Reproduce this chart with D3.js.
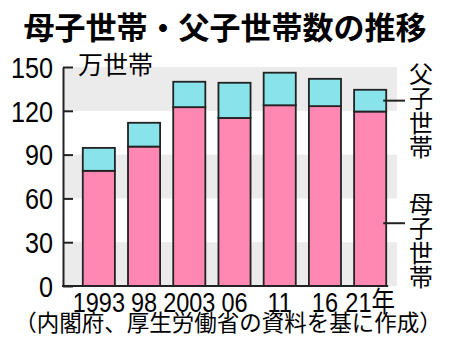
<!DOCTYPE html>
<html>
<head>
<meta charset="utf-8">
<script src="https://cdn.jsdelivr.net/npm/d3@7"></script>
<style>
  body { margin: 0; background: #fff; }
  svg { display: block; }
  .num { font-family: "Liberation Sans", Arial, "Noto Sans CJK JP", sans-serif; }
  .jp { font-family: "Noto Sans CJK JP", sans-serif; }
</style>
</head>
<body>
<svg width="450" height="358"></svg>
<script>
// data (万世帯)
var years = ["1993", "98", "2003", "06", "11", "16", "21年"];
var boshi = [78.9, 95.5, 122.5, 115.1, 123.8, 123.2, 119.5];   // 母子世帯
var fushi = [15.7, 16.3, 17.4, 24.1, 22.3, 18.7, 14.9];        // 父子世帯
var yTicks = [0, 30, 60, 90, 120, 150];

var svg = d3.select("svg");
var plotL = 63, plotR = 397, plotT = 67, plotB = 286;
var squeeze = 0.84; // digits are condensed in the original

var x = d3.scaleBand()
  .domain(years)
  .range([76, 393])
  .paddingInner(0.29)
  .paddingOuter(0.15);

var y = d3.scaleLinear()
  .domain([0, 150])
  .range([plotB, plotT]);

// title
svg.append("text")
  .attr("class", "jp")
  .attr("x", 225).attr("y", 39)
  .attr("text-anchor", "middle")
  .style("font-size", "31px")
  .style("font-weight", "bold")
  .text("母子世帯・父子世帯数の推移");

// grey bands every other 30
var bands = d3.range(0, yTicks.length - 1).filter(function(i) { return i % 2 == 0; });
svg.selectAll(".band")
  .data(bands).enter()
  .append("rect")
  .attr("class", "band")
  .attr("x", plotL)
  .attr("width", plotR - plotL)
  .attr("y", function(i) { return y(yTicks[i + 1]); })
  .attr("height", function(i) { return y(yTicks[i]) - y(yTicks[i + 1]); })
  .attr("fill", "#ebebeb");

// unit label
svg.append("text")
  .attr("class", "jp")
  .attr("x", 78).attr("y", 74)
  .style("font-size", "25px")
  .text("万世帯");

// bars
var rows = years.map(function(yr, i) { return { year: yr, b: boshi[i], f: fushi[i] }; });
var g = svg.append("g");

g.selectAll(".pink")
  .data(rows).enter()
  .append("rect")
  .attr("x", d => x(d.year))
  .attr("width", x.bandwidth())
  .attr("y", d => y(d.b))
  .attr("height", d => y(0) - y(d.b))
  .attr("fill", "#ff88b2")
  .attr("stroke", "#222")
  .attr("stroke-width", 1.8);

g.selectAll(".cyan")
  .data(rows).enter()
  .append("rect")
  .attr("x", d => x(d.year))
  .attr("width", x.bandwidth())
  .attr("y", d => y(d.b + d.f))
  .attr("height", d => y(d.b) - y(d.b + d.f))
  .attr("fill", "#88e3ea")
  .attr("stroke", "#222")
  .attr("stroke-width", 1.8);

// y axis, ticks inward
var yAxis = svg.append("g")
  .attr("transform", "translate(" + plotL + ",0)")
  .call(d3.axisRight(y).tickValues(yTicks).tickSize(10).tickSizeOuter(0).tickFormat(""));
yAxis.select(".domain").attr("stroke", "#222").attr("stroke-width", 2);
yAxis.selectAll(".tick line").attr("stroke", "#222").attr("stroke-width", 2);

svg.selectAll(".ylab")
  .data(yTicks).enter()
  .append("text")
  .attr("class", "num")
  .attr("transform", d => "translate(53," + y(d) + ") scale(" + squeeze + ",1)")
  .attr("dy", "0.36em")
  .attr("text-anchor", "end")
  .style("font-size", "30px")
  .text(d => d);

// x axis line
svg.append("line")
  .attr("x1", plotL - 1).attr("x2", x(years[years.length - 1]) + x.bandwidth() + 2)
  .attr("y1", plotB).attr("y2", plotB)
  .attr("stroke", "#222").attr("stroke-width", 2);

svg.selectAll(".xlab")
  .data(years).enter()
  .append("text")
  .attr("class", "num")
  .attr("transform", d => "translate(" + (x(d) + x.bandwidth() / 2) + ",312) scale(" + squeeze + ",1)")
  .attr("text-anchor", "middle")
  .style("font-size", "28px")
  .text(d => d);

// legend, vertical text with leader lines
var last = rows[rows.length - 1];
var legend = [
  { label: "父子世帯", v: last.b + last.f / 2, y0: 74 },
  { label: "母子世帯", v: 43, y0: 204 }
];
var xr = x(last.year) + x.bandwidth();
legend.forEach(function(l) {
  svg.append("line")
    .attr("x1", xr - 3).attr("x2", 405)
    .attr("y1", y(l.v)).attr("y2", y(l.v))
    .attr("stroke", "#222").attr("stroke-width", 2);
  svg.selectAll(null)
    .data(l.label.split("")).enter()
    .append("text")
    .attr("class", "jp")
    .attr("x", 421)
    .attr("y", (c, i) => l.y0 + i * 24.5)
    .attr("dy", "0.36em")
    .attr("text-anchor", "middle")
    .style("font-size", "24px")
    .text(c => c);
});

// source
svg.append("text")
  .attr("class", "jp")
  .attr("x", 228).attr("y", 331)
  .attr("text-anchor", "middle")
  .style("font-size", "22.5px")
  .text("（内閣府、厚生労働省の資料を基に作成）");
</script>
</body>
</html>
